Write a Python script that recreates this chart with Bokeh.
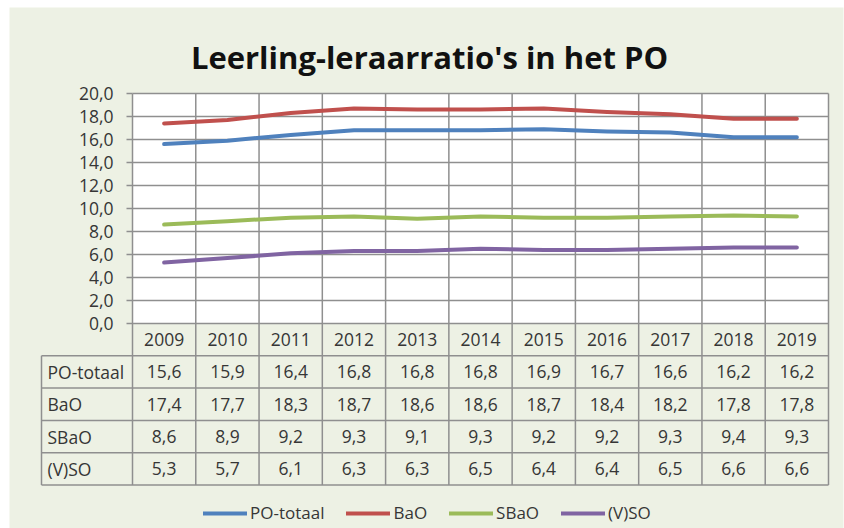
from bokeh.plotting import figure
from bokeh.models import Range1d, LinearAxis, FixedTicker, Label
from bokeh.core.properties import value
from bokeh.embed import file_html
from bokeh.resources import INLINE

# ---------------- data ----------------
years = ["2009", "2010", "2011", "2012", "2013", "2014", "2015", "2016", "2017", "2018", "2019"]
po_totaal = [15.6, 15.9, 16.4, 16.8, 16.8, 16.8, 16.9, 16.7, 16.6, 16.2, 16.2]
bao = [17.4, 17.7, 18.3, 18.7, 18.6, 18.6, 18.7, 18.4, 18.2, 17.8, 17.8]
sbao = [8.6, 8.9, 9.2, 9.3, 9.1, 9.3, 9.2, 9.2, 9.3, 9.4, 9.3]
vso = [5.3, 5.7, 6.1, 6.3, 6.3, 6.5, 6.4, 6.4, 6.5, 6.6, 6.6]
series_names = ["PO-totaal", "BaO", "SBaO", "(V)SO"]
series_values = [po_totaal, bao, sbao, vso]
series_colors = ["#4f81bd", "#c0504d", "#9bbb59", "#8064a2"]
y_ticks = [0, 2, 4, 6, 8, 10, 12, 14, 16, 18, 20]
y_tick_labels = ["0,0", "2,0", "4,0", "6,0", "8,0", "10,0", "12,0", "14,0", "16,0", "18,0", "20,0"]
title_text = "Leerling-leraarratio's in het PO"

# ---------------- layout constants ----------------
W, H = 844, 528
FL, FT, FR = 9, 7, 843      # frame edges in page px
BG = "#edf1e4"
GRID = "#8f8f8f"
TXT = "#363636"
FONT = "Open Sans"
n = len(years)
PX_X = 696 / 11.0          # px per column
PX_Y = 11.5                # px per y unit
x_left = -0.5 - (132 - FL) / PX_X
x_right = n - 0.5 + (FR - 828) / PX_X
y_top = (323 - FT) / PX_Y
y_bottom = -(H - 323) / PX_Y
RH = 32.3 / PX_Y           # table row height in y units
LEFT_COL = -0.5 - 91 / PX_X
ymax = y_ticks[-1]

p = figure(width=W, height=H, x_range=Range1d(x_left, x_right), y_range=Range1d(y_bottom, y_top),
           x_axis_type=None, y_axis_type=None, toolbar_location=None, output_backend="svg",
           min_border_left=FL, min_border_top=FT, min_border_right=W - FR, min_border_bottom=0,
           background_fill_color=BG, border_fill_color="white", outline_line_color=None,
           title=None)

# white plotting area
p.quad(left=[-0.5], right=[n - 0.5], bottom=[0], top=[ymax], fill_color="white", line_color=None)

# horizontal grid lines
p.segment(x0=[-0.5] * len(y_ticks), x1=[n - 0.5] * len(y_ticks), y0=y_ticks, y1=y_ticks,
          line_color=GRID, line_width=1.5)
# vertical column lines (chart + table)
bounds = [-0.5 + i for i in range(n + 1)]
p.segment(x0=bounds, x1=bounds, y0=[ymax] * len(bounds), y1=[-5 * RH] * len(bounds),
          line_color=GRID, line_width=1.5)
# table row lines
rows_y = [-RH * k for k in range(1, 6)]
p.segment(x0=[LEFT_COL] * 5, x1=[n - 0.5] * 5, y0=rows_y, y1=rows_y, line_color=GRID, line_width=1.5)
p.segment(x0=[LEFT_COL], x1=[LEFT_COL], y0=[-RH], y1=[-5 * RH], line_color=GRID, line_width=1.5)

# series lines
xs = list(range(n))
for name, vals, col in zip(series_names, series_values, series_colors):
    p.line(x=xs, y=vals, line_width=4, line_color=col, legend_label=name,
           line_cap="round", line_join="round")

# y axis
yaxis = LinearAxis(fixed_location=-0.5, bounds=(0, ymax), ticker=FixedTicker(ticks=y_ticks),
                   major_label_overrides={t: l for t, l in zip(y_ticks, y_tick_labels)})
yaxis.axis_line_color = None
yaxis.major_tick_out = 6
yaxis.major_tick_in = 0
yaxis.major_tick_line_color = GRID
yaxis.major_tick_line_width = 1.5
yaxis.minor_tick_line_color = None
yaxis.major_label_standoff = 13
yaxis.major_label_text_font = FONT
yaxis.major_label_text_font_size = "17.5px"
yaxis.major_label_text_color = TXT
p.add_layout(yaxis, "left")

# table: header row (years)
p.text(x=xs, y=[-RH / 2] * n, text=years, text_align="center", text_baseline="middle",
       text_font=value(FONT), text_font_size="17.5px", text_color=TXT)
# table rows
for k, (name, vals) in enumerate(zip(series_names, series_values), start=1):
    yc = -(k + 0.5) * RH
    p.text(x=[LEFT_COL], y=[yc], text=[name], text_align="left", text_baseline="middle",
           x_offset=6, text_font=value(FONT), text_font_size="17.5px", text_color=TXT)
    p.text(x=xs, y=[yc] * n, text=[f"{v:.1f}".replace(".", ",") for v in vals],
           text_align="center", text_baseline="middle",
           text_font=value(FONT), text_font_size="17.5px", text_color=TXT)

# title
title = Label(x=x_left + (429 - FL) / PX_X, y=(323 - 56) / PX_Y, text=title_text,
              text_align="center", text_baseline="alphabetic", text_font=FONT,
              text_font_size="31px", text_font_style="bold", text_color="#111111")
p.add_layout(title)

# legend
lg = p.legend[0]
lg.location = (203 - FL, 4)
lg.orientation = "horizontal"
lg.background_fill_alpha = 0
lg.border_line_color = None
lg.padding = 0
lg.margin = 0
lg.spacing = 22
lg.glyph_width = 44
lg.glyph_height = 16
lg.label_height = 16
lg.label_standoff = 3
lg.label_text_font = FONT
lg.label_text_font_size = "17px"
lg.label_text_color = TXT

open("out.html", "w").write(file_html(p, INLINE))
